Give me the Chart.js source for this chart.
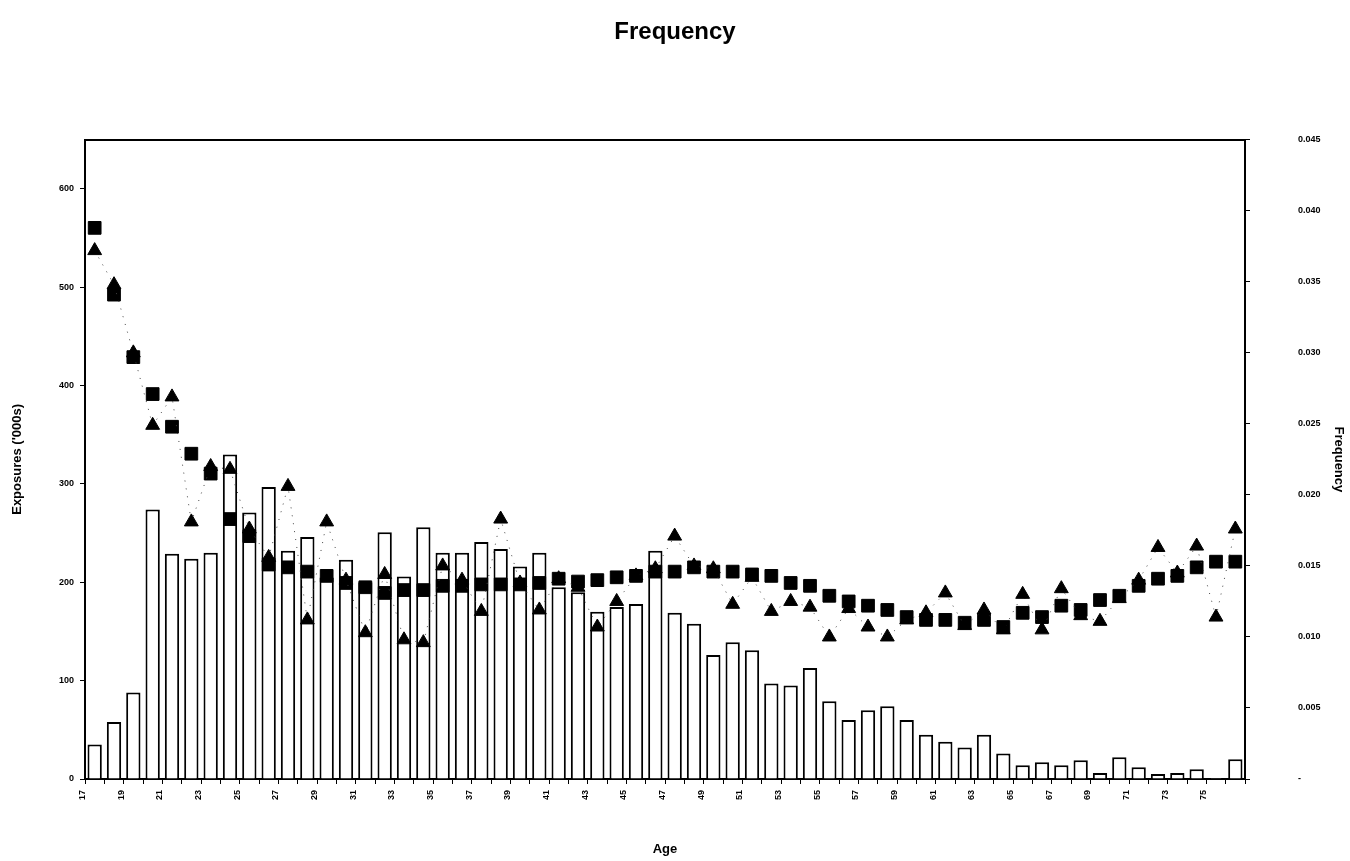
<!DOCTYPE html>
<html>
<head>
<meta charset="utf-8">
<script src="https://cdn.jsdelivr.net/npm/chart.js@4.4.1/dist/chart.umd.min.js"></script>
<style>
  html, body { margin: 0; padding: 0; background: #fff; }
  #wrap { width: 1350px; height: 861px; }
</style>
</head>
<body>
<div id="wrap"><canvas id="chart" width="1350" height="861"></canvas></div>
<script>
// ages on the x axis (one bar per age)
const ages = [17, 18, 19, 20, 21, 22, 23, 24, 25, 26, 27, 28, 29, 30, 31, 32, 33, 34, 35, 36,
              37, 38, 39, 40, 41, 42, 43, 44, 45, 46, 47, 48, 49, 50, 51, 52, 53, 54, 55, 56,
              57, 58, 59, 60, 61, 62, 63, 64, 65, 66, 67, 68, 69, 70, 71, 72, 73, 74, 75, 76];

// exposures ('000s), left axis
const exposures = [35, 58, 88, 274, 229, 224, 230, 330, 271, 297, 232, 246, 205, 223, 200, 251, 206, 256, 230, 230,
                   241, 234, 216, 230, 195, 190, 170, 175, 178, 232, 169, 158, 126, 139, 131, 97, 95, 113, 79, 60,
                   70, 74, 60, 45, 38, 32, 45, 26, 14, 17, 14, 19, 6, 22, 12, 5, 6, 10, 1, 20];

// fitted frequency (squares), right axis
const fitted = [0.0388, 0.0341, 0.0297, 0.0271, 0.0248, 0.0229, 0.0215, 0.0183, 0.0171, 0.0151,
                0.0149, 0.0146, 0.0143, 0.0138, 0.0135, 0.0131, 0.0133, 0.0133, 0.0136, 0.0136,
                0.0137, 0.0137, 0.0137, 0.0138, 0.0141, 0.0139, 0.0140, 0.0142, 0.0143, 0.0146,
                0.0146, 0.0149, 0.0146, 0.0146, 0.0144, 0.0143, 0.0138, 0.0136, 0.0129, 0.0125,
                0.0122, 0.0119, 0.0114, 0.0112, 0.0112, 0.0110, 0.0112, 0.0107, 0.0117, 0.0114,
                0.0122, 0.0119, 0.0126, 0.0129, 0.0136, 0.0141, 0.0143, 0.0149, 0.0153, 0.0153];

// observed frequency (triangles), right axis
const observed = [0.0372, 0.0348, 0.0300, 0.0249, 0.0269, 0.0181, 0.0220, 0.0218, 0.0176, 0.0156,
                  0.0206, 0.0112, 0.0181, 0.0140, 0.0103, 0.0144, 0.0098, 0.0096, 0.0150, 0.0140,
                  0.0118, 0.0183, 0.0138, 0.0119, 0.0141, 0.0135, 0.0107, 0.0125, 0.0143, 0.0148,
                  0.0171, 0.0150, 0.0148, 0.0123, 0.0142, 0.0118, 0.0125, 0.0121, 0.0100, 0.0120,
                  0.0107, 0.0100, 0.0112, 0.0117, 0.0131, 0.0108, 0.0119, 0.0105, 0.0130, 0.0105,
                  0.0134, 0.0115, 0.0111, 0.0127, 0.0140, 0.0163, 0.0145, 0.0164, 0.0114, 0.0176];

const FONT = "'Liberation Sans', Arial, sans-serif";
const tickFont = { family: FONT, size: 9, weight: 'bold' };
const axisTitleFont = { family: FONT, size: 13, weight: 'bold' };

new Chart(document.getElementById('chart'), {
  data: {
    labels: ages,
    datasets: [
      {
        type: 'line',
        label: 'Observed',
        data: observed,
        yAxisID: 'y1',
        showLine: true,
        borderColor: '#444',
        borderWidth: 1,
        borderDash: [1, 7],
        pointStyle: 'triangle',
        pointRadius: 8,
        pointBackgroundColor: '#000',
        pointBorderColor: '#000',
        order: 1,
      },
      {
        type: 'line',
        label: 'Fitted',
        data: fitted,
        yAxisID: 'y1',
        showLine: false,
        pointStyle: 'rect',
        pointRadius: 9,
        pointBackgroundColor: '#000',
        pointBorderColor: '#000',
        order: 2,
      },
      {
        type: 'bar',
        label: 'Exposures',
        data: exposures,
        yAxisID: 'y',
        backgroundColor: '#fff',
        borderColor: '#000',
        borderWidth: 2,
        barPercentage: 0.74,
        categoryPercentage: 1.0,
        order: 3,
      },
    ],
  },
  options: {
    responsive: false,
    animation: false,
    layout: { padding: 0 },
    plugins: {
      legend: { display: false },
      tooltip: { enabled: false },
      title: {
        display: true,
        text: 'Frequency',
        color: '#000',
        font: { family: FONT, size: 24, weight: 'bold' },
        padding: { top: 18, bottom: 93 },
      },
    },
    scales: {
      x: {
        type: 'category',
        offset: true,
        grid: { display: true, drawOnChartArea: false, offset: true, tickLength: 5, color: '#000' },
        border: { color: '#000', width: 2 },
        ticks: {
          autoSkip: false,
          maxRotation: 90,
          minRotation: 90,
          labelOffset: -12,
          padding: 6,
          color: '#000',
          font: tickFont,
          callback: (v, i) => (i % 2 === 0 ? ages[i] : ''),
        },
        title: { display: true, text: 'Age', color: '#000', font: axisTitleFont, padding: { top: 12 } },
        afterFit: (s) => { s.height = 82; },
      },
      xTop: {
        type: 'category',
        position: 'top',
        grid: { display: false },
        border: { color: '#000', width: 2 },
        ticks: { display: false },
        afterFit: (s) => { s.height = 0; },
      },
      y: {
        position: 'left',
        min: 0,
        max: 650,
        afterBuildTicks: (s) => { s.ticks = s.ticks.filter((t) => t.value <= 600); },
        ticks: { stepSize: 100, color: '#000', font: tickFont, padding: 6 },
        grid: { drawOnChartArea: false, tickLength: 5, color: '#000' },
        border: { color: '#000', width: 2 },
        title: { display: true, text: "Exposures ('000s)", color: '#000', font: axisTitleFont, padding: { top: 10 } },
        afterFit: (s) => { s.width = 85; },
      },
      y1: {
        position: 'right',
        min: 0,
        max: 0.045,
        ticks: {
          stepSize: 0.005,
          color: '#000',
          font: tickFont,
          padding: 48,
          callback: (v) => (v === 0 ? '-' : v.toFixed(3)),
        },
        grid: { drawOnChartArea: false, tickLength: 5, color: '#000' },
        border: { color: '#000', width: 2 },
        title: { display: true, text: 'Frequency', color: '#000', font: axisTitleFont, padding: { bottom: 4 } },
        afterFit: (s) => { s.width = 105; },
      },
    },
  },
});
</script>
</body>
</html>
